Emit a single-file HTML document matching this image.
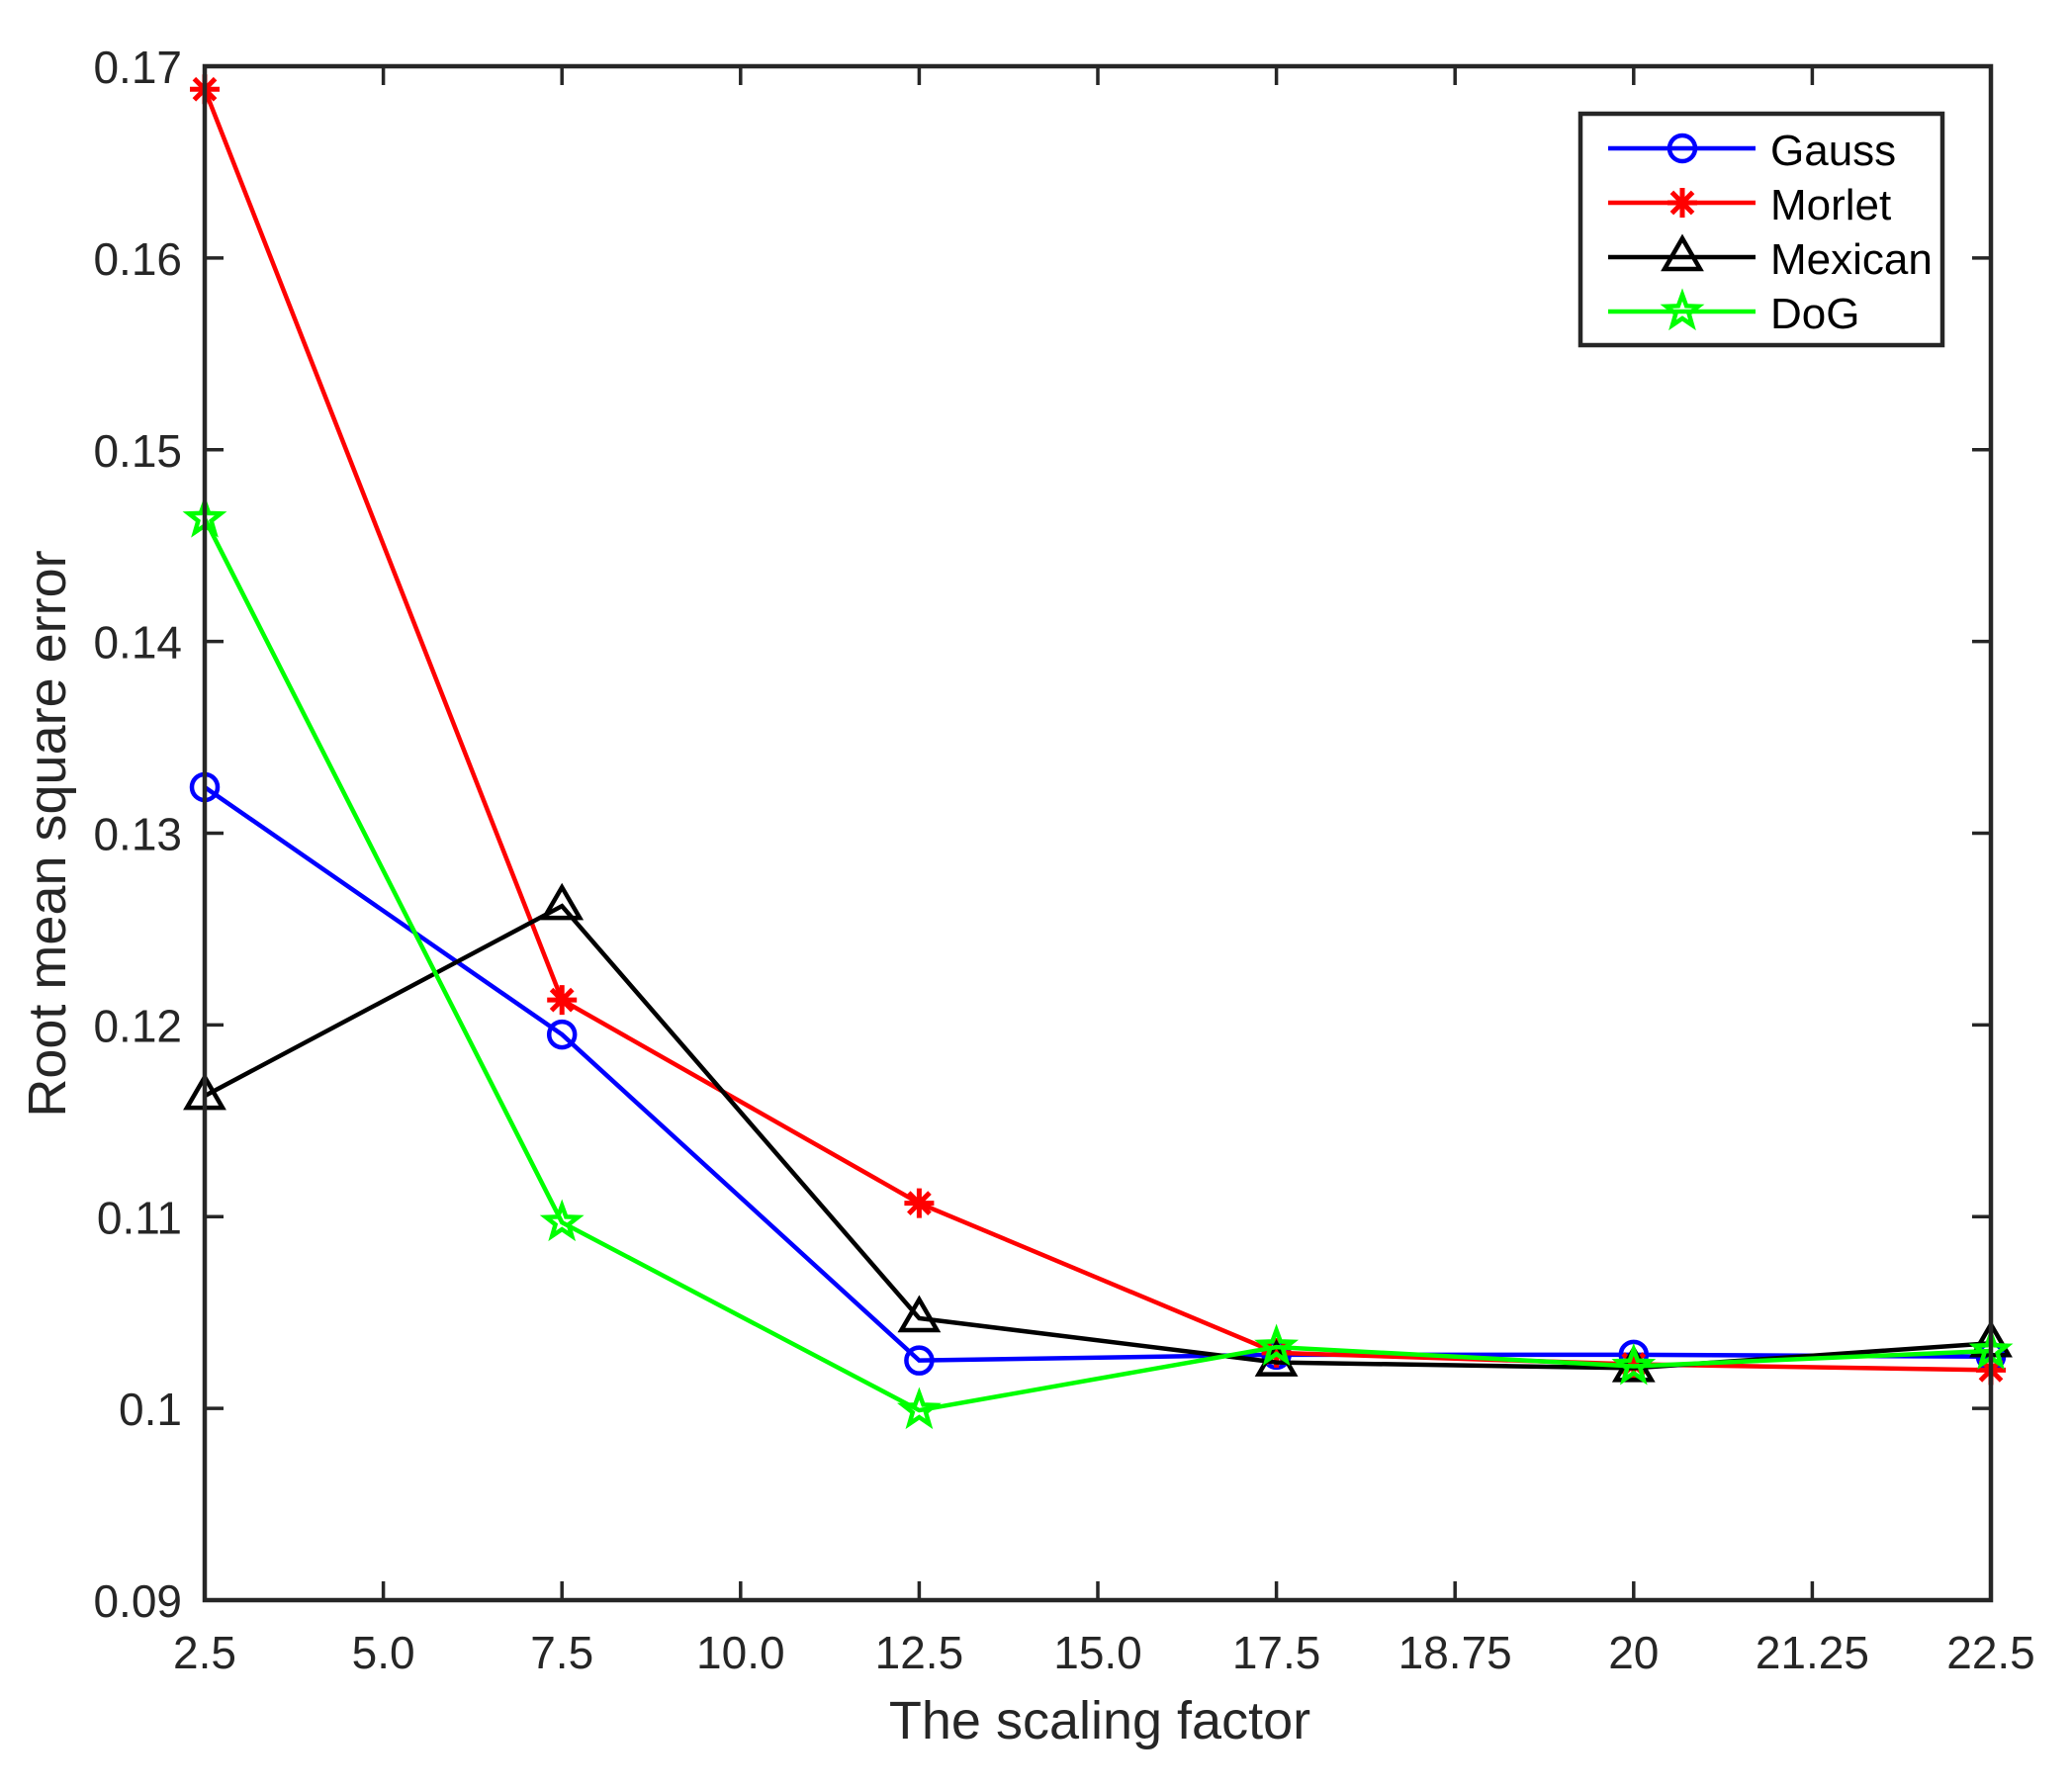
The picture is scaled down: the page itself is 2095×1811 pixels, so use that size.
<!DOCTYPE html>
<html><head><meta charset="utf-8"><style>html,body{margin:0;padding:0;background:#fff}svg{display:block}</style></head>
<body>
<svg width="2095" height="1811" viewBox="0 0 2095 1811" xmlns="http://www.w3.org/2000/svg" font-family="Liberation Sans, Arial, sans-serif">
<rect width="2095" height="1811" fill="#fff"/>
<g id="ticks" stroke="#262626" stroke-width="3.5"></g>
<g id="series"></g>
<rect x="207" y="67" width="1806" height="1551" fill="none" stroke="#262626" stroke-width="4.5"/>
<g id="labels" fill="#262626" font-size="46"></g>
<text x="1112" y="1758" font-size="54" fill="#262626" text-anchor="middle">The scaling factor</text>
<text transform="translate(66,843) rotate(-90)" font-size="54" fill="#262626" text-anchor="middle">Root mean square error</text>
<rect x="1598" y="115" width="366" height="234" fill="#fff" stroke="#262626" stroke-width="4.5"/>
<g id="legend"></g>
<script>
var L=207,R=2013,T=67,B=1618,ns="http://www.w3.org/2000/svg";
function X(i){return L+(R-L)*i/10}
function Y(v){return B-(v-0.09)/0.08*(B-T)}
function el(p,t,a,txt){var e=document.createElementNS(ns,t);for(var k in a)e.setAttribute(k,a[k]);if(txt!=null)e.textContent=txt;p.appendChild(e);return e}
var tk=document.getElementById('ticks'),lb=document.getElementById('labels');
var xl=['2.5','5.0','7.5','10.0','12.5','15.0','17.5','18.75','20','21.25','22.5'];
for(var i=0;i<=10;i++){var x=X(i);el(tk,'line',{x1:x,y1:B,x2:x,y2:B-19});el(tk,'line',{x1:x,y1:T,x2:x,y2:T+19});el(lb,'text',{x:x,y:1687,'text-anchor':'middle'},xl[i]);}
var yl=['0.09','0.1','0.11','0.12','0.13','0.14','0.15','0.16','0.17'];
for(var j=0;j<=8;j++){var y=Y(0.09+j*0.01);el(tk,'line',{x1:L,y1:y,x2:L+19,y2:y});el(tk,'line',{x1:R,y1:y,x2:R-19,y2:y});el(lb,'text',{x:184,y:y+17,'text-anchor':'end'},yl[j]);}
var idx=[0,2,4,6,8,10];
var S=[
{c:'#0000ff',m:'o',d:[0.1324,0.1195,0.1025,0.1028,0.1028,0.1027]},
{c:'#ff0000',m:'*',d:[0.1688,0.1213,0.1107,0.1029,0.1023,0.1020]},
{c:'#000000',m:'^',d:[0.1163,0.1262,0.1047,0.1024,0.1021,0.1034]},
{c:'#00ff00',m:'p',d:[0.1464,0.1097,0.0999,0.1032,0.1022,0.1030]}];
function marker(g,m,x,y,c){
 if(m=='o')el(g,'circle',{cx:x,cy:y,r:13,fill:'none',stroke:c,'stroke-width':4.5});
 else if(m=='*'){var r=15,p='';for(var a=0;a<4;a++){var t=a*Math.PI/4;p+='M'+(x-r*Math.cos(t))+' '+(y-r*Math.sin(t))+'L'+(x+r*Math.cos(t))+' '+(y+r*Math.sin(t));}el(g,'path',{d:p,stroke:c,'stroke-width':5,fill:'none'});}
 else if(m=='^')el(g,'polygon',{points:(x)+','+(y-19)+' '+(x-18)+','+(y+12)+' '+(x+18)+','+(y+12),fill:'none',stroke:c,'stroke-width':4.5});
 else{var pts=[];for(var k=0;k<10;k++){var rr=k%2?7:17,t=-Math.PI/2+k*Math.PI/5;pts.push((x+rr*Math.cos(t))+','+(y+rr*Math.sin(t)));}el(g,'polygon',{points:pts.join(' '),fill:'none',stroke:c,'stroke-width':4.5});}
}
var sg=document.getElementById('series'),lg=document.getElementById('legend');
var names=['Gauss','Morlet','Mexican','DoG'];
S.forEach(function(s,n){
 var pts=s.d.map(function(v,i){return X(idx[i])+','+Y(v)}).join(' ');
 el(sg,'polyline',{points:pts,fill:'none',stroke:s.c,'stroke-width':4.5});
 s.d.forEach(function(v,i){marker(sg,s.m,X(idx[i]),Y(v),s.c)});
 var ly=150+n*55;
 el(lg,'line',{x1:1626,y1:ly,x2:1775,y2:ly,stroke:s.c,'stroke-width':4.5});
 marker(lg,s.m,1701,ly,s.c);
 el(lg,'text',{x:1790,y:ly+17,'font-size':44,fill:'#000'},names[n]);
});
</script>
</svg>
</body></html>
